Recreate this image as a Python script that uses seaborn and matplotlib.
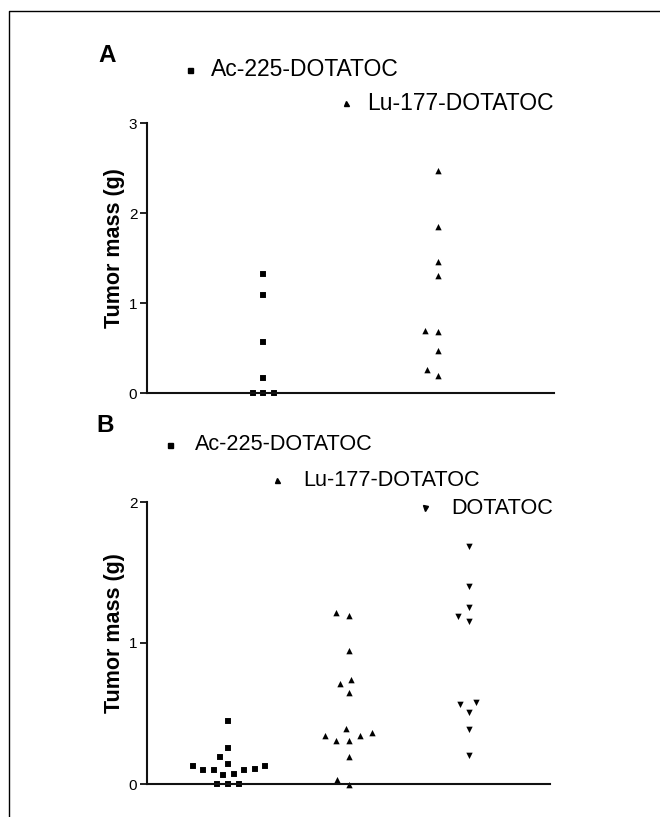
import numpy as np
import pandas as pd
import matplotlib
matplotlib.use("Agg")
import matplotlib.pyplot as plt
from matplotlib.lines import Line2D
import seaborn as sns

# panel A data (tumor mass, g)
groups_a = ["Ac-225-DOTATOC", "Lu-177-DOTATOC"]
ac_a = [1.32, 1.09, 0.57, 0.17, 0.0, 0.0, 0.0]
lu_a = [2.48, 1.86, 1.47, 1.31, 0.685, 0.70, 0.48, 0.27, 0.20]

# panel B data (tumor mass, g)
groups_b = ["Ac-225-DOTATOC", "Lu-177-DOTATOC", "DOTATOC"]
ac_b = [0.448, 0.255, 0.189, 0.142, 0.127, 0.108, 0.101, 0.066, 0.071,
        0.101, 0.101, 0.127, 0.0, 0.0, 0.0]
lu_b = [1.217, 1.198, 0.95, 0.743, 0.715, 0.656, 0.396, 0.366, 0.349,
        0.349, 0.314, 0.314, 0.196, 0.038, 0.0]
dota_b = [1.68, 1.40, 1.245, 1.186, 1.151, 0.573, 0.561, 0.502, 0.384, 0.20]

yticks_a = [0, 1, 2, 3]
yticks_b = [0, 1, 2]
markers = {"Ac-225-DOTATOC": "s", "Lu-177-DOTATOC": "^", "DOTATOC": "v"}
msizes = {"Ac-225-DOTATOC": 5.9, "Lu-177-DOTATOC": 7.0, "DOTATOC": 7.0}

sns.set_style("ticks")
plt.rcParams["font.family"] = ["Liberation Sans", "DejaVu Sans"]
plt.rcParams["text.color"] = "black"
plt.rcParams["axes.labelcolor"] = "black"
plt.rcParams["ytick.color"] = "black"
plt.rcParams["ytick.labelcolor"] = "black"

df_a = pd.DataFrame({"group": [groups_a[0]] * len(ac_a) + [groups_a[1]] * len(lu_a),
                     "mass": ac_a + lu_a})
df_b = pd.DataFrame({"group": [groups_b[0]] * len(ac_b) + [groups_b[1]] * len(lu_b)
                     + [groups_b[2]] * len(dota_b),
                     "mass": ac_b + lu_b + dota_b})

W, H = 660, 817
fig = plt.figure(figsize=(6.6, 8.17), dpi=100)
axA = fig.add_axes([147 / W, 1 - 393 / H, 407 / W, 270 / H])
axB = fig.add_axes([147 / W, 1 - 784 / H, 403 / W, 282 / H])


def draw_panel(ax, df, groups, yticks, xlim):
    for g in groups:
        # white edge widens the swarm spacing, black core stays small
        sns.swarmplot(data=df[df.group == g], x="group", y="mass", order=groups,
                      marker=markers[g], color="black", size=msizes[g], linewidth=1.5,
                      edgecolor="white", clip_on=False, ax=ax)
    ax.set_xlim(*xlim)
    ax.set_ylim(yticks[0], yticks[-1])
    ax.set_yticks(yticks)
    ax.set_xticks([])
    ax.set_xlabel("")
    ax.set_ylabel("Tumor mass (g)", fontsize=15.5, fontweight="bold", color="black")
    ax.yaxis.set_label_coords(-0.055, 0.535)
    sns.despine(ax=ax)
    for s in ["left", "bottom"]:
        ax.spines[s].set_linewidth(1.5)
        ax.spines[s].set_color("#111111")
        ax.spines[s].set_zorder(3)
    ax.tick_params(axis="y", length=5, width=1.3, labelsize=11, pad=2,
                   color="#111111", labelcolor="black")


draw_panel(axA, df_a, groups_a, yticks_a, (-0.667, 1.667))
draw_panel(axB, df_b, groups_b, yticks_b, (-0.67, 2.67))


def legend_entry(mx, tx, py, label, size):
    fy = 1 - py / H
    fig.add_artist(Line2D([mx / W], [fy], marker=markers[label], color="black",
                          markersize=3.6, linestyle="none", transform=fig.transFigure))
    fig.text(tx / W, fy, label, fontsize=size, ha="left", va="center", color="black")


legend_entry(190, 211, 70, "Ac-225-DOTATOC", 16.5)
legend_entry(346, 367, 103, "Lu-177-DOTATOC", 16.5)
legend_entry(170, 195, 445, "Ac-225-DOTATOC", 15.6)
legend_entry(277, 303, 480, "Lu-177-DOTATOC", 15.6)
legend_entry(425, 451, 508, "DOTATOC", 15.6)

fig.text(98 / W, 1 - 55 / H, "A", fontsize=17.5, fontweight="bold", ha="left",
         va="center", color="black")
fig.text(96 / W, 1 - 425 / H, "B", fontsize=17.5, fontweight="bold", ha="left",
         va="center", color="black")

# outer frame: top and left edges only
fig.add_artist(Line2D([9 / W, 9 / W, 1.0], [0.0, 1 - 11 / H, 1 - 11 / H],
                      color="black", linewidth=1.0, transform=fig.transFigure))

fig.savefig("out.png", dpi=100)
